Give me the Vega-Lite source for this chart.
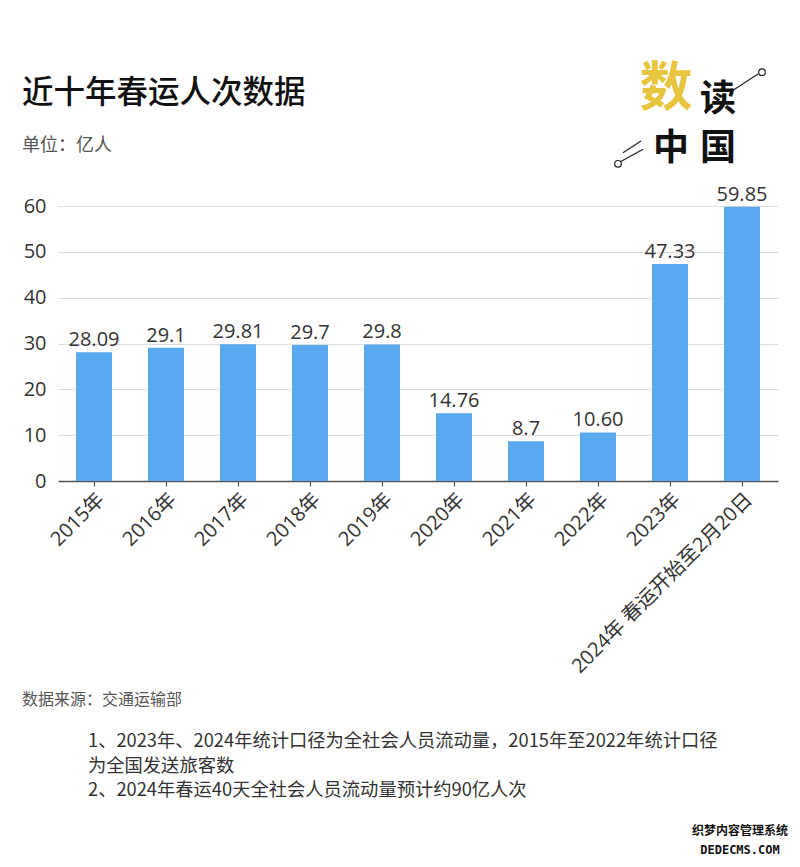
{
  "$schema": "https://vega.github.io/schema/vega-lite/v6.json",
  "autosize": {"type": "none"},
  "padding": {"left": 58, "top": 206, "right": 22, "bottom": 386},
  "width": 720,
  "height": 275,
  "background": "white",
  "config": {
    "view": {"stroke": null},
    "font": "Open Sans, Noto Sans CJK SC"
  },
  "data": {
    "values": [
      {"year": "2015年", "value": 28.09, "label": "28.09"},
      {"year": "2016年", "value": 29.1, "label": "29.1"},
      {"year": "2017年", "value": 29.81, "label": "29.81"},
      {"year": "2018年", "value": 29.7, "label": "29.7"},
      {"year": "2019年", "value": 29.8, "label": "29.8"},
      {"year": "2020年", "value": 14.76, "label": "14.76"},
      {"year": "2021年", "value": 8.7, "label": "8.7"},
      {"year": "2022年", "value": 10.6, "label": "10.60"},
      {"year": "2023年", "value": 47.33, "label": "47.33"},
      {"year": "2024年 春运开始至2月20日", "value": 59.85, "label": "59.85"}
    ]
  },
  "encoding": {
    "x": {
      "field": "year",
      "type": "nominal",
      "sort": null,
      "scale": {"paddingInner": 0.5, "paddingOuter": 0.25},
      "axis": {
        "title": null,
        "labelAngle": -45,
        "labelFont": "Open Sans, Noto Sans CJK SC",
        "labelFontSize": 20,
        "labelColor": "#333333",
        "labelPadding": 3,
        "labelLimit": 400,
        "domainColor": "#555555",
        "domainWidth": 1.5,
        "tickColor": "#555555",
        "tickSize": 5,
        "tickWidth": 1.2,
        "grid": false
      }
    },
    "y": {
      "field": "value",
      "type": "quantitative",
      "scale": {"domain": [0, 60], "nice": false},
      "axis": {
        "title": null,
        "values": [0, 10, 20, 30, 40, 50, 60],
        "labelFont": "Open Sans",
        "labelFontSize": 20,
        "labelColor": "#333333",
        "labelPadding": 12,
        "ticks": false,
        "domain": false,
        "gridColor": "#dedede",
        "gridWidth": 1
      }
    }
  },
  "layer": [
    {"mark": {"type": "bar", "color": "#58a9ef"}},
    {
      "mark": {"type": "text", "baseline": "alphabetic", "dy": -6, "font": "Open Sans", "fontSize": 20, "color": "#333333"},
      "encoding": {"text": {"field": "label"}}
    },
    {
      "transform": [{"filter": "datum.year === '2015年'"}],
      "mark": {"type": "text", "font": "Noto Sans CJK SC", "fontWeight": 500, "fontSize": 31.5, "color": "#111111", "align": "left", "baseline": "middle"},
      "encoding": {
        "x": {"datum": "2015年", "bandPosition": -1.5},
        "y": {"datum": 84.35},
        "text": {"value": "近十年春运人次数据"}
      }
    },
    {
      "transform": [{"filter": "datum.year === '2015年'"}],
      "mark": {"type": "text", "font": "Noto Sans CJK SC", "fontSize": 18, "color": "#555555", "align": "left", "baseline": "middle"},
      "encoding": {
        "x": {"datum": "2015年", "bandPosition": -1.5},
        "y": {"datum": 73.1},
        "text": {"value": "单位：亿人"}
      }
    },
    {
      "transform": [{"filter": "datum.year === '2015年'"}],
      "mark": {"type": "text", "font": "Noto Sans CJK SC", "fontWeight": "bold", "fontSize": 53, "color": "#e8c53e", "baseline": "middle", "align": "center"},
      "encoding": {
        "x": {"datum": "2023年", "bandPosition": 0.389},
        "y": {"datum": 85.4},
        "text": {"value": "数"}
      }
    },
    {
      "transform": [{"filter": "datum.year === '2015年'"}],
      "mark": {"type": "text", "font": "Noto Sans CJK SC", "fontWeight": "bold", "fontSize": 36, "color": "#111111", "baseline": "middle", "align": "center"},
      "encoding": {
        "x": {"datum": "2024年 春运开始至2月20日", "bandPosition": -0.167},
        "y": {"datum": 83.1},
        "text": {"value": "读"}
      }
    },
    {
      "transform": [{"filter": "datum.year === '2015年'"}],
      "mark": {"type": "text", "font": "Noto Sans CJK SC", "fontWeight": "bold", "fontSize": 36, "color": "#111111", "baseline": "middle", "align": "center"},
      "encoding": {
        "x": {"datum": "2023年", "bandPosition": 0.528},
        "y": {"datum": 72.5},
        "text": {"value": "中"}
      }
    },
    {
      "transform": [{"filter": "datum.year === '2015年'"}],
      "mark": {"type": "text", "font": "Noto Sans CJK SC", "fontWeight": "bold", "fontSize": 36, "color": "#111111", "baseline": "middle", "align": "center"},
      "encoding": {
        "x": {"datum": "2024年 春运开始至2月20日", "bandPosition": -0.167},
        "y": {"datum": 72.5},
        "text": {"value": "国"}
      }
    },
    {
      "transform": [{"filter": "datum.year === '2015年'"}],
      "mark": {"type": "rule", "color": "#222222", "strokeWidth": 1.2},
      "encoding": {
        "x": {"datum": "2024年 春运开始至2月20日", "bandPosition": 0.222},
        "x2": {"datum": "2024年 春运开始至2月20日", "bandPosition": 0.944},
        "y": {"datum": 85.1},
        "y2": {"datum": 88.8}
      }
    },
    {
      "transform": [{"filter": "datum.year === '2015年'"}],
      "mark": {"type": "rule", "color": "#222222", "strokeWidth": 1.2},
      "encoding": {
        "x": {"datum": "2022年", "bandPosition": 1.111},
        "x2": {"datum": "2022年", "bandPosition": 1.75},
        "y": {"datum": 69.6},
        "y2": {"datum": 72.4}
      }
    },
    {
      "transform": [{"filter": "datum.year === '2015年'"}],
      "mark": {"type": "rule", "color": "#222222", "strokeWidth": 1.2},
      "encoding": {
        "x": {"datum": "2022年", "bandPosition": 1.194},
        "x2": {"datum": "2022年", "bandPosition": 1.694},
        "y": {"datum": 71.6},
        "y2": {"datum": 74.2}
      }
    },
    {
      "transform": [{"filter": "datum.year === '2015年'"}],
      "mark": {"type": "point", "shape": "circle", "size": 44, "filled": true, "fill": "white", "stroke": "#222222", "strokeWidth": 1.2, "opacity": 1},
      "encoding": {
        "x": {"datum": "2024年 春运开始至2月20日", "bandPosition": 1.056},
        "y": {"datum": 89.2}
      }
    },
    {
      "transform": [{"filter": "datum.year === '2015年'"}],
      "mark": {"type": "point", "shape": "circle", "size": 44, "filled": true, "fill": "white", "stroke": "#222222", "strokeWidth": 1.2, "opacity": 1},
      "encoding": {
        "x": {"datum": "2022年", "bandPosition": 1.056},
        "y": {"datum": 69.2}
      }
    },
    {
      "transform": [{"filter": "datum.year === '2015年'"}],
      "mark": {"type": "text", "font": "Noto Sans CJK SC", "fontSize": 16, "color": "#555555", "align": "left", "baseline": "middle"},
      "encoding": {
        "x": {"datum": "2015年", "bandPosition": -1.5},
        "y": {"datum": -47.8},
        "text": {"value": "数据来源：交通运输部"}
      }
    },
    {
      "transform": [{"filter": "datum.year === '2015年'"}],
      "mark": {"type": "text", "font": "Noto Sans CJK SC", "fontSize": 18.3, "color": "#333333", "align": "left", "baseline": "middle"},
      "encoding": {
        "x": {"datum": "2015年", "bandPosition": 0.333},
        "y": {"datum": -56.95},
        "text": {"value": "1、2023年、2024年统计口径为全社会人员流动量，2015年至2022年统计口径"}
      }
    },
    {
      "transform": [{"filter": "datum.year === '2015年'"}],
      "mark": {"type": "text", "font": "Noto Sans CJK SC", "fontSize": 18.3, "color": "#333333", "align": "left", "baseline": "middle"},
      "encoding": {
        "x": {"datum": "2015年", "bandPosition": 0.333},
        "y": {"datum": -62.4},
        "text": {"value": "为全国发送旅客数"}
      }
    },
    {
      "transform": [{"filter": "datum.year === '2015年'"}],
      "mark": {"type": "text", "font": "Noto Sans CJK SC", "fontSize": 18.3, "color": "#333333", "align": "left", "baseline": "middle"},
      "encoding": {
        "x": {"datum": "2015年", "bandPosition": 0.333},
        "y": {"datum": -67.6},
        "text": {"value": "2、2024年春运40天全社会人员流动量预计约90亿人次"}
      }
    },
    {
      "transform": [{"filter": "datum.year === '2015年'"}],
      "mark": {"type": "text", "font": "Noto Sans CJK SC", "fontWeight": "bold", "fontSize": 12, "color": "#111111", "align": "center", "baseline": "middle"},
      "encoding": {
        "x": {"datum": "2024年 春运开始至2月20日", "bandPosition": 0.444},
        "y": {"datum": -76.4},
        "text": {"value": "织梦内容管理系统"}
      }
    },
    {
      "transform": [{"filter": "datum.year === '2015年'"}],
      "mark": {"type": "text", "font": "DejaVu Sans Mono", "fontWeight": "bold", "fontSize": 12, "color": "#111111", "align": "center", "baseline": "middle"},
      "encoding": {
        "x": {"datum": "2024年 春运开始至2月20日", "bandPosition": 0.444},
        "y": {"datum": -80.6},
        "text": {"value": "DEDECMS.COM"}
      }
    }
  ]
}
